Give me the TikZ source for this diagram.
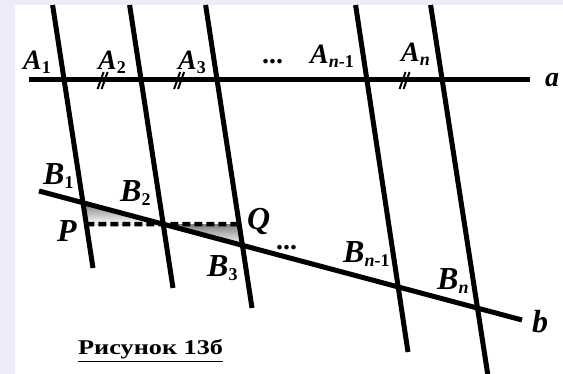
\documentclass[tikz,border=0pt]{standalone}
\usepackage{fontspec}
\setmainfont{Liberation Serif}
\usepackage{xcolor}
\definecolor{lavender}{HTML}{ECECFA}
\definecolor{shade}{HTML}{B4B8C0}
\usetikzlibrary{calc}
\newcommand{\idx}[1]{\raisebox{-4pt}{\fontsize{18}{18}\selectfont #1}}

\begin{document}
\begin{tikzpicture}[x=1pt, y=-1pt,
  line/.style={line width=5pt},
  hidden/.style={line width=4.4pt, dash pattern=on 8pt off 4pt},
  lblA/.style={font=\bfseries\itshape\fontsize{28}{28}\selectfont, inner sep=0pt, anchor=base west},
  lblB/.style={font=\bfseries\itshape\fontsize{32}{32}\selectfont, inner sep=0pt, anchor=base west},
  caption/.style={font=\bfseries\fontsize{21}{21}\selectfont, inner sep=0pt, anchor=base west},
  eqmark/.pic={\draw[line width=2pt] (-5,9) -- (1,-8) (-1,9) -- (5,-8);}]
  \useasboundingbox (0,0) rectangle (563,374);
  \fill[lavender] (0,0) rectangle (563,374);
  \fill[white] (15,5) rectangle (563,374);
  \foreach \i/\x/\u/\v in {1/52.6/93/268, 2/129.6/173/288, 3/205.6/252/308, 4/355.6/408/352, 5/430.6/488/376} {
    \coordinate (T\i) at (\x,5);
    \coordinate (U\i) at (\u,\v);
  }
  \coordinate (a0) at (29,80);
  \coordinate (a1) at (530,80);
  \coordinate (b0) at (39,191);
  \coordinate (b1) at (522,320);
  \foreach \i in {1,...,5} {
    \coordinate (A\i) at (intersection of a0--a1 and T\i--U\i);
    \coordinate (B\i) at (intersection of b0--b1 and T\i--U\i);
  }
  \coordinate (H) at ($(B2)+(100,0)$);
  \coordinate (P) at (intersection of B2--H and T1--U1);
  \coordinate (Q) at (intersection of B2--H and T3--U3);
  \fill[shade] (B1) -- (P) -- (B2) -- cycle;
  \fill[shade] (B2) -- (Q) -- (B3) -- cycle;
  \draw[hidden] (P) -- (Q);
  \draw[line] (a0) -- (a1);
  \draw[line] (b0) -- (b1);
  \foreach \i in {1,...,5} \draw[line] (T\i) -- (U\i);
  \foreach \p/\q in {A1/A2, A2/A3, A4/A5} \pic at ($(\p)!.5!(\q)$) {eqmark};
  \node[lblA] (lA1) at (23,70) {A\idx{\upshape 1}};
  \node[lblA] (lA2) at (98,70) {A\idx{\upshape 2}};
  \node[lblA] (lA3) at (178,70) {A\idx{\upshape 3}};
  \node[lblA] (dotsA) at (263,64) {...};
  \node[lblA] (lA4) at (310,64) {A\idx{n\upshape -1}};
  \node[lblA] (lA5) at (401,62) {A\idx{n}};
  \node[lblA] (la) at (545,87) {a};
  \node[lblB] (lB1) at (43,185) {B\idx{\upshape 1}};
  \node[lblB] (lB2) at (120,202) {B\idx{\upshape 2}};
  \node[lblB] (lP) at (57,242) {P};
  \node[lblB] (lQ) at (247,230) {Q};
  \node[lblB] (lB3) at (207,277) {B\idx{\upshape 3}};
  \node[lblA] (dotsB) at (277,250) {...};
  \node[lblB] (lB4) at (343,263) {B\idx{n\upshape -1}};
  \node[lblB] (lB5) at (437,290) {B\idx{n}};
  \node[lblB] (lb) at (532,333) {b};
  \node[caption] (cap) at (78,355) {\scalebox{1.25}[1]{\underline{Рисунок 13б}}};
\end{tikzpicture}
\end{document}
